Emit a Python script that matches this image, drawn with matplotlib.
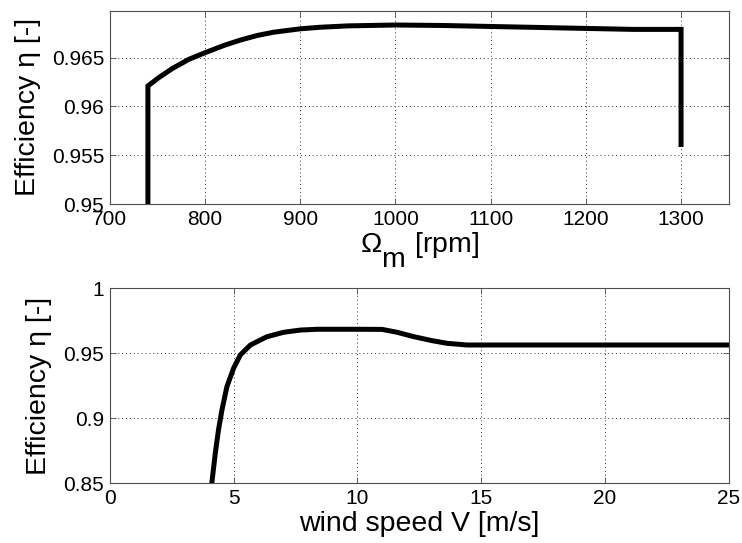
import matplotlib
matplotlib.use("Agg")
import matplotlib.pyplot as plt

plt.rcParams['font.family'] = ['Liberation Sans', 'DejaVu Sans']
plt.rcParams['mathtext.fontset'] = 'custom'
plt.rcParams['mathtext.rm'] = 'Liberation Sans'
plt.rcParams['mathtext.it'] = 'Liberation Sans:italic'

# MATLAB-style subscript: full size, dropped well below the baseline
try:
    import matplotlib._mathtext as _mt
    _mt.SHRINK_FACTOR = 1.0
    _mt.FontConstantsBase.sub1 = 1.05
    _mt.FontConstantsBase.subdrop = 1.05
except Exception:
    pass

# ---- data: top panel (efficiency vs rotor speed) ----
rpm = [740, 740, 751.5, 765.5, 783, 800, 820, 837, 855, 872, 900, 921, 950, 1000, 1050,
       1100, 1150, 1200, 1250, 1300, 1300]
eff_rpm = [0.95, 0.9621, 0.96296, 0.96388, 0.96483, 0.96551, 0.96626, 0.9668, 0.96728, 0.96761,
           0.96796, 0.96812, 0.96826, 0.96835, 0.9683, 0.9682, 0.9681, 0.9680, 0.9679, 0.9679,
           0.9561]

# ---- data: bottom panel (efficiency vs wind speed) ----
wind = [4.12, 4.26, 4.39, 4.53, 4.73, 5.0, 5.27, 5.68, 6.35, 7.03, 7.7, 8.38, 10.0, 11.0,
        11.6, 12.28, 13.0, 13.62, 14.43, 15, 20, 25]
eff_wind = [0.85, 0.873, 0.891, 0.9064, 0.9243, 0.9385, 0.9487, 0.9564, 0.9628, 0.9662, 0.9679,
            0.9685, 0.9685, 0.9684, 0.9662, 0.9628, 0.9598, 0.9577, 0.9564, 0.9564, 0.9564, 0.9564]

top_xticks = [700, 800, 900, 1000, 1100, 1200, 1300]
top_yticks = [0.95, 0.955, 0.96, 0.965]
top_ylabels = ['0.95', '0.955', '0.96', '0.965']
bot_xticks = [0, 5, 10, 15, 20, 25]
bot_yticks = [0.85, 0.9, 0.95, 1.0]
bot_ylabels = ['0.85', '0.9', '0.95', '1']

fig = plt.figure(figsize=(7.42, 5.43), dpi=100)
ax1 = fig.add_axes([0.148, 0.6243, 0.834, 0.3557])
ax2 = fig.add_axes([0.148, 0.110, 0.834, 0.359])

frame_color = '#4d4d4d'

def style(ax):
    for s in ax.spines.values():
        s.set_color(frame_color)
        s.set_linewidth(0.8)
    ax.tick_params(direction='in', length=4, width=0.6, colors=frame_color,
                   labelcolor='black', labelsize=15, top=True, right=True, pad=4)
    ax.grid(True, linestyle=(0, (1, 3)), color='#333333', linewidth=0.7)
    ax.set_axisbelow(True)

ax1.plot(rpm, eff_rpm, color='black', linewidth=3.6, solid_joinstyle='miter')
ax1.set_xlim(700, 1350)
ax1.set_ylim(0.95, 0.9698)
ax1.set_xticks(top_xticks)
ax1.set_yticks(top_yticks)
ax1.set_yticklabels(top_ylabels)
style(ax1)
ax1.set_xlabel(r'$\mathregular{\Omega_m}$ [rpm]', fontsize=20.5, labelpad=1)
ax1.set_ylabel('Efficiency η [-]', fontsize=20.5, labelpad=8)

ax2.plot(wind, eff_wind, color='black', linewidth=3.6)
ax2.set_xlim(0, 25)
ax2.set_ylim(0.85, 1.0)
ax2.set_xticks(bot_xticks)
ax2.set_yticks(bot_yticks)
ax2.set_yticklabels(bot_ylabels)
style(ax2)
ax2.set_xlabel('wind speed V [m/s]', fontsize=20.5, labelpad=2)
ax2.set_ylabel('Efficiency η [-]', fontsize=20.5, labelpad=8)

fig.savefig('out.png', dpi=100)
